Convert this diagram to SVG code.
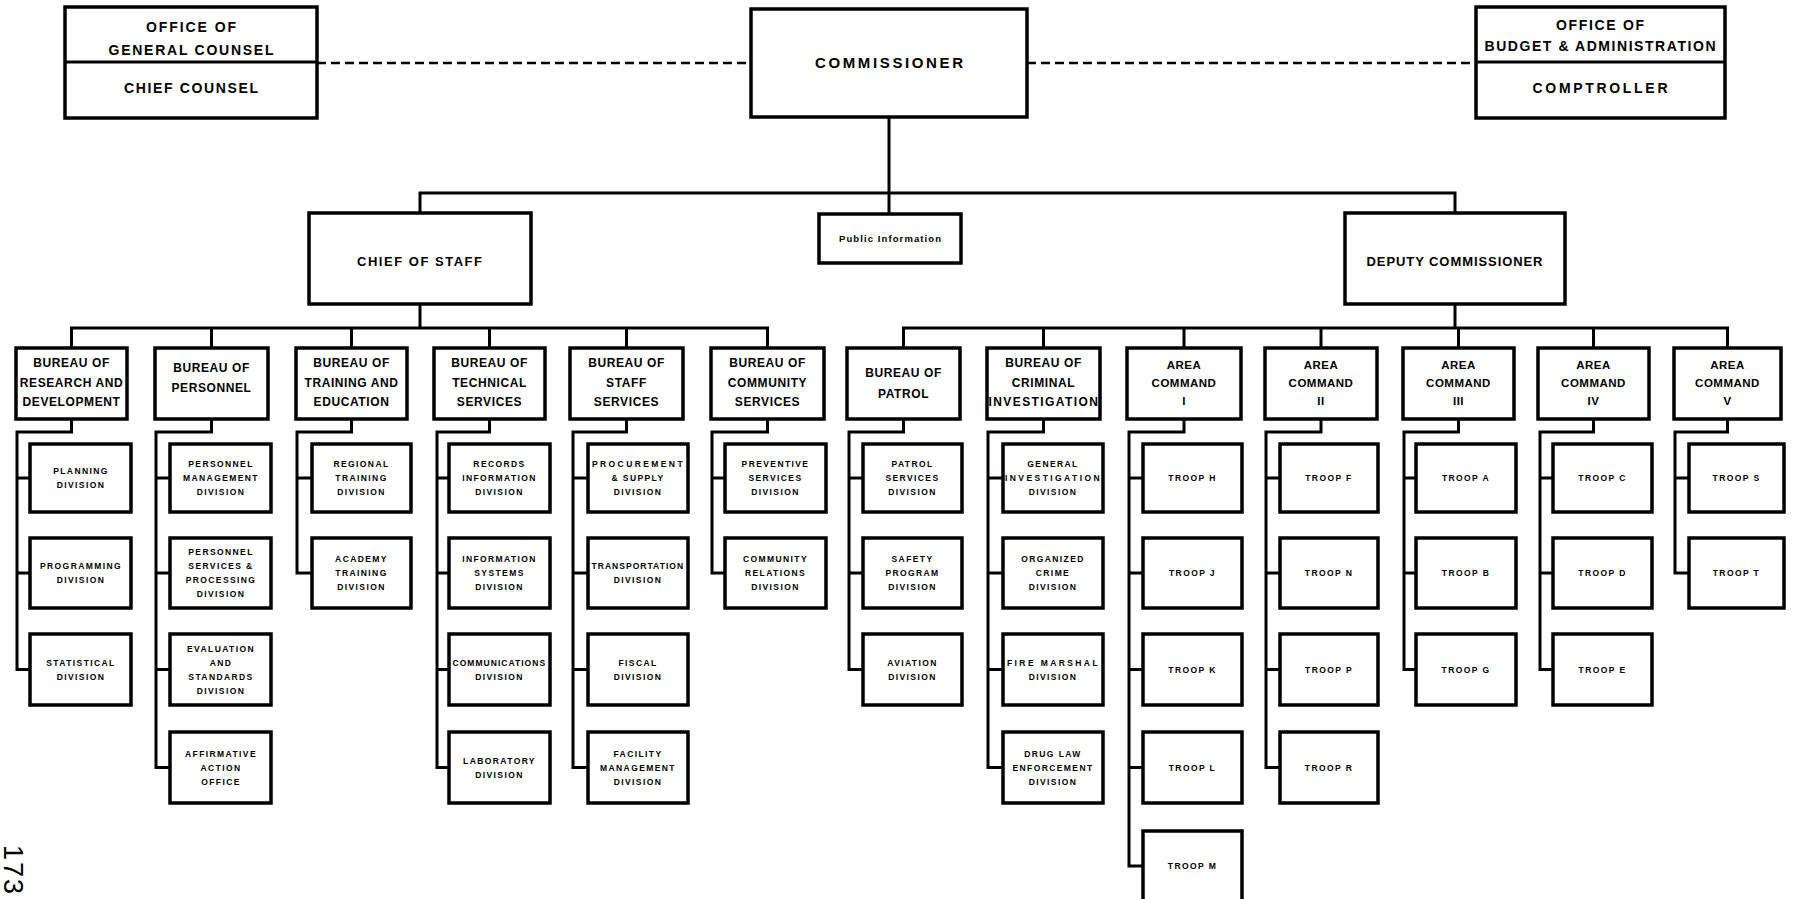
<svg xmlns="http://www.w3.org/2000/svg" width="1794" height="899" viewBox="0 0 1794 899">
<style>
.box{fill:#fff;stroke:#000;stroke-width:3.5}
.ln{fill:none;stroke:#000;stroke-width:3}
.dash{fill:none;stroke:#000;stroke-width:2.5;stroke-dasharray:9 5}
text{font-family:"Liberation Sans",Arial,sans-serif;font-weight:bold;fill:#000;text-anchor:middle}
.t1{font-size:14px}
.t2{font-size:13px;letter-spacing:1px}
.t3{font-size:12px;letter-spacing:0.6px}
.ta{font-size:11.5px;letter-spacing:0.5px}
.t4{font-size:8.5px;letter-spacing:1.4px}
.tp{font-size:9.5px}
.pg{font-size:27px;font-weight:normal;letter-spacing:2px;text-anchor:start}
</style>
<rect width="1794" height="899" fill="#fff"/>

<g id="connectors">
<path class="dash" d="M317 63H751M1027 63H1476"/>
<path class="ln" d="M889 117V214M420 213V193H1455V213"/>
<path class="ln" d="M420 304V328M71.5 348V328H767.5V348M211.5 328V348M351.5 328V348M489.5 328V348M626.5 328V348"/>
<path class="ln" d="M1455 304V328M903.5 348V328H1727.5V348M1043.5 328V348M1184 328V348M1321 328V348M1458.5 328V348M1593.5 328V348"/>
<path class="ln" d="M71.5 419V432H17V669.5H30M17 478H30M17 573H30"/>
<path class="ln" d="M211.5 419V432H156V767.5H170M156 478H170M156 573H170M156 669.5H170"/>
<path class="ln" d="M351.5 419V432H297V573H312M297 478H312"/>
<path class="ln" d="M489.5 419V432H437V767.5H449M437 478H449M437 573H449M437 669.5H449"/>
<path class="ln" d="M626.5 419V432H573V767.5H588M573 478H588M573 573H588M573 669.5H588"/>
<path class="ln" d="M767.5 419V432H712V573H725M712 478H725"/>
<path class="ln" d="M903.5 419V432H849V669.5H863M849 478H863M849 573H863"/>
<path class="ln" d="M1043.5 419V432H988V767.5H1003M988 478H1003M988 573H1003M988 669.5H1003"/>
<path class="ln" d="M1184 419V432H1129V866H1143M1129 478H1143M1129 573H1143M1129 669.5H1143M1129 767.5H1143"/>
<path class="ln" d="M1321 419V432H1266V767.5H1280M1266 478H1280M1266 573H1280M1266 669.5H1280"/>
<path class="ln" d="M1458.5 419V432H1404V669.5H1416M1404 478H1416M1404 573H1416"/>
<path class="ln" d="M1593.5 419V432H1540V669.5H1553M1540 478H1553M1540 573H1553"/>
<path class="ln" d="M1727.5 419V432H1675V573H1689M1675 478H1689"/>
</g>

<g id="general-counsel">
<rect class="box" x="65" y="7" width="252" height="111"/>
<path class="ln" d="M65 62H317"/>
<text class="t1" x="191" y="32" textLength="90">OFFICE OF</text>
<text class="t1" x="191" y="55" textLength="165">GENERAL COUNSEL</text>
<text class="t1" x="191" y="93" textLength="134">CHIEF COUNSEL</text>
</g>
<g id="commissioner">
<rect class="box" x="751" y="9" width="276" height="108"/>
<text class="t1" x="889" y="68" style="font-size:15px" textLength="148">COMMISSIONER</text>
</g>
<g id="budget">
<rect class="box" x="1476" y="7" width="249" height="111"/>
<path class="ln" d="M1476 62H1725"/>
<text class="t1" x="1600" y="30" textLength="88">OFFICE OF</text>
<text class="t1" x="1600" y="51" textLength="231">BUDGET &amp; ADMINISTRATION</text>
<text class="t1" x="1600" y="93" textLength="135">COMPTROLLER</text>
</g>
<g id="chief-of-staff">
<rect class="box" x="309" y="213" width="222" height="91"/>
<text class="t2" x="420" y="265.5" textLength="126">CHIEF OF STAFF</text>
</g>
<g id="public-information">
<rect class="box" x="819" y="214" width="142" height="49"/>
<text class="tp" x="890" y="241.5" textLength="102">Public Information</text>
</g>
<g id="deputy-commissioner">
<rect class="box" x="1345" y="213" width="220" height="91"/>
<text class="t2" x="1455" y="265.5" textLength="177">DEPUTY COMMISSIONER</text>
</g>

<g id="bureau-research">
<rect class="box" x="16" y="348" width="111" height="71"/>
<text class="t3" x="71.5" y="367">BUREAU OF</text>
<text class="t3" x="71.5" y="386.5">RESEARCH AND</text>
<text class="t3" x="71.5" y="405.5">DEVELOPMENT</text>
</g>
<g id="planning"><rect class="box" x="30" y="444" width="101" height="68"/>
<text class="t4" x="81" y="474">PLANNING</text><text class="t4" x="81" y="488">DIVISION</text></g>
<g id="programming"><rect class="box" x="30" y="538" width="101" height="70"/>
<text class="t4" x="81" y="569">PROGRAMMING</text><text class="t4" x="81" y="583">DIVISION</text></g>
<g id="statistical"><rect class="box" x="30" y="634" width="101" height="71"/>
<text class="t4" x="81" y="665.5">STATISTICAL</text><text class="t4" x="81" y="679.5">DIVISION</text></g>

<g id="bureau-personnel">
<rect class="box" x="155" y="348" width="113" height="71"/>
<text class="t3" x="211.5" y="372">BUREAU OF</text>
<text class="t3" x="211.5" y="392">PERSONNEL</text>
</g>
<g id="personnel-management"><rect class="box" x="170" y="444" width="101" height="68"/>
<text class="t4" x="221" y="467">PERSONNEL</text><text class="t4" x="221" y="481">MANAGEMENT</text><text class="t4" x="221" y="495">DIVISION</text></g>
<g id="personnel-services"><rect class="box" x="170" y="538" width="101" height="70"/>
<text class="t4" x="221" y="555">PERSONNEL</text><text class="t4" x="221" y="569">SERVICES &amp;</text><text class="t4" x="221" y="583">PROCESSING</text><text class="t4" x="221" y="597">DIVISION</text></g>
<g id="evaluation"><rect class="box" x="170" y="634" width="101" height="71"/>
<text class="t4" x="221" y="651.5">EVALUATION</text><text class="t4" x="221" y="665.5">AND</text><text class="t4" x="221" y="679.5">STANDARDS</text><text class="t4" x="221" y="693.5">DIVISION</text></g>
<g id="affirmative-action"><rect class="box" x="170" y="732" width="101" height="71"/>
<text class="t4" x="221" y="756.5">AFFIRMATIVE</text><text class="t4" x="221" y="770.5">ACTION</text><text class="t4" x="221" y="784.5">OFFICE</text></g>

<g id="bureau-training">
<rect class="box" x="296" y="348" width="111" height="71"/>
<text class="t3" x="351.5" y="367">BUREAU OF</text>
<text class="t3" x="351.5" y="386.5">TRAINING AND</text>
<text class="t3" x="351.5" y="405.5">EDUCATION</text>
</g>
<g id="regional-training"><rect class="box" x="312" y="444" width="99" height="68"/>
<text class="t4" x="361.5" y="467">REGIONAL</text><text class="t4" x="361.5" y="481">TRAINING</text><text class="t4" x="361.5" y="495">DIVISION</text></g>
<g id="academy-training"><rect class="box" x="312" y="538" width="99" height="70"/>
<text class="t4" x="361.5" y="562">ACADEMY</text><text class="t4" x="361.5" y="576">TRAINING</text><text class="t4" x="361.5" y="590">DIVISION</text></g>

<g id="bureau-technical">
<rect class="box" x="434" y="348" width="111" height="71"/>
<text class="t3" x="489.5" y="367">BUREAU OF</text>
<text class="t3" x="489.5" y="386.5">TECHNICAL</text>
<text class="t3" x="489.5" y="405.5">SERVICES</text>
</g>
<g id="records"><rect class="box" x="449" y="444" width="101" height="68"/>
<text class="t4" x="499.5" y="467">RECORDS</text><text class="t4" x="499.5" y="481">INFORMATION</text><text class="t4" x="499.5" y="495">DIVISION</text></g>
<g id="information-systems"><rect class="box" x="449" y="538" width="101" height="70"/>
<text class="t4" x="499.5" y="562">INFORMATION</text><text class="t4" x="499.5" y="576">SYSTEMS</text><text class="t4" x="499.5" y="590">DIVISION</text></g>
<g id="communications"><rect class="box" x="449" y="634" width="101" height="71"/>
<text class="t4" x="499.5" y="665.5" textLength="94">COMMUNICATIONS</text><text class="t4" x="499.5" y="679.5">DIVISION</text></g>
<g id="laboratory"><rect class="box" x="449" y="732" width="101" height="71"/>
<text class="t4" x="499.5" y="763.5">LABORATORY</text><text class="t4" x="499.5" y="777.5">DIVISION</text></g>

<g id="bureau-staff">
<rect class="box" x="570" y="348" width="113" height="71"/>
<text class="t3" x="626.5" y="367">BUREAU OF</text>
<text class="t3" x="626.5" y="386.5">STAFF</text>
<text class="t3" x="626.5" y="405.5">SERVICES</text>
</g>
<g id="procurement"><rect class="box" x="588" y="444" width="100" height="68"/>
<text class="t4" x="638" y="467" textLength="92">PROCUREMENT</text><text class="t4" x="638" y="481">&amp; SUPPLY</text><text class="t4" x="638" y="495">DIVISION</text></g>
<g id="transportation"><rect class="box" x="588" y="538" width="100" height="70"/>
<text class="t4" x="638" y="569" textLength="93">TRANSPORTATION</text><text class="t4" x="638" y="583">DIVISION</text></g>
<g id="fiscal"><rect class="box" x="588" y="634" width="100" height="71"/>
<text class="t4" x="638" y="665.5">FISCAL</text><text class="t4" x="638" y="679.5">DIVISION</text></g>
<g id="facility"><rect class="box" x="588" y="732" width="100" height="71"/>
<text class="t4" x="638" y="756.5">FACILITY</text><text class="t4" x="638" y="770.5">MANAGEMENT</text><text class="t4" x="638" y="784.5">DIVISION</text></g>

<g id="bureau-community">
<rect class="box" x="711" y="348" width="113" height="71"/>
<text class="t3" x="767.5" y="367">BUREAU OF</text>
<text class="t3" x="767.5" y="386.5">COMMUNITY</text>
<text class="t3" x="767.5" y="405.5">SERVICES</text>
</g>
<g id="preventive"><rect class="box" x="725" y="444" width="101" height="68"/>
<text class="t4" x="775.5" y="467">PREVENTIVE</text><text class="t4" x="775.5" y="481">SERVICES</text><text class="t4" x="775.5" y="495">DIVISION</text></g>
<g id="community-relations"><rect class="box" x="725" y="538" width="101" height="70"/>
<text class="t4" x="775.5" y="562">COMMUNITY</text><text class="t4" x="775.5" y="576">RELATIONS</text><text class="t4" x="775.5" y="590">DIVISION</text></g>

<g id="bureau-patrol">
<rect class="box" x="847" y="348" width="113" height="71"/>
<text class="t3" x="903.5" y="377">BUREAU OF</text>
<text class="t3" x="903.5" y="398">PATROL</text>
</g>
<g id="patrol-services"><rect class="box" x="863" y="444" width="99" height="68"/>
<text class="t4" x="912.5" y="467">PATROL</text><text class="t4" x="912.5" y="481">SERVICES</text><text class="t4" x="912.5" y="495">DIVISION</text></g>
<g id="safety-program"><rect class="box" x="863" y="538" width="99" height="70"/>
<text class="t4" x="912.5" y="562">SAFETY</text><text class="t4" x="912.5" y="576">PROGRAM</text><text class="t4" x="912.5" y="590">DIVISION</text></g>
<g id="aviation"><rect class="box" x="863" y="634" width="99" height="71"/>
<text class="t4" x="912.5" y="665.5">AVIATION</text><text class="t4" x="912.5" y="679.5">DIVISION</text></g>

<g id="bureau-criminal">
<rect class="box" x="987" y="348" width="113" height="71"/>
<text class="t3" x="1043.5" y="367">BUREAU OF</text>
<text class="t3" x="1043.5" y="386.5">CRIMINAL</text>
<text class="t3" x="1043.5" y="405.5" textLength="110">INVESTIGATION</text>
</g>
<g id="general-investigation"><rect class="box" x="1003" y="444" width="100" height="68"/>
<text class="t4" x="1053" y="467">GENERAL</text><text class="t4" x="1053" y="481" textLength="96">INVESTIGATION</text><text class="t4" x="1053" y="495">DIVISION</text></g>
<g id="organized-crime"><rect class="box" x="1003" y="538" width="100" height="70"/>
<text class="t4" x="1053" y="562">ORGANIZED</text><text class="t4" x="1053" y="576">CRIME</text><text class="t4" x="1053" y="590">DIVISION</text></g>
<g id="fire-marshal"><rect class="box" x="1003" y="634" width="100" height="71"/>
<text class="t4" x="1053" y="665.5" textLength="92">FIRE MARSHAL</text><text class="t4" x="1053" y="679.5">DIVISION</text></g>
<g id="drug-law"><rect class="box" x="1003" y="732" width="100" height="71"/>
<text class="t4" x="1053" y="756.5">DRUG LAW</text><text class="t4" x="1053" y="770.5">ENFORCEMENT</text><text class="t4" x="1053" y="784.5">DIVISION</text></g>

<g id="area-1">
<rect class="box" x="1127" y="348" width="114" height="71"/>
<text class="ta" x="1184" y="369">AREA</text><text class="ta" x="1184" y="387">COMMAND</text><text class="ta" x="1184" y="405">I</text>
</g>
<g id="troop-h"><rect class="box" x="1143" y="444" width="99" height="68"/><text class="t4" x="1192.5" y="481">TROOP H</text></g>
<g id="troop-j"><rect class="box" x="1143" y="538" width="99" height="70"/><text class="t4" x="1192.5" y="576">TROOP J</text></g>
<g id="troop-k"><rect class="box" x="1143" y="634" width="99" height="71"/><text class="t4" x="1192.5" y="672.5">TROOP K</text></g>
<g id="troop-l"><rect class="box" x="1143" y="732" width="99" height="71"/><text class="t4" x="1192.5" y="770.5">TROOP L</text></g>
<g id="troop-m"><rect class="box" x="1143" y="831" width="99" height="80"/><text class="t4" x="1192.5" y="869">TROOP M</text></g>

<g id="area-2">
<rect class="box" x="1265" y="348" width="112" height="71"/>
<text class="ta" x="1321" y="369">AREA</text><text class="ta" x="1321" y="387">COMMAND</text><text class="ta" x="1321" y="405">II</text>
</g>
<g id="troop-f"><rect class="box" x="1280" y="444" width="98" height="68"/><text class="t4" x="1329" y="481">TROOP F</text></g>
<g id="troop-n"><rect class="box" x="1280" y="538" width="98" height="70"/><text class="t4" x="1329" y="576">TROOP N</text></g>
<g id="troop-p"><rect class="box" x="1280" y="634" width="98" height="71"/><text class="t4" x="1329" y="672.5">TROOP P</text></g>
<g id="troop-r"><rect class="box" x="1280" y="732" width="98" height="71"/><text class="t4" x="1329" y="770.5">TROOP R</text></g>

<g id="area-3">
<rect class="box" x="1403" y="348" width="111" height="71"/>
<text class="ta" x="1458.5" y="369">AREA</text><text class="ta" x="1458.5" y="387">COMMAND</text><text class="ta" x="1458.5" y="405">III</text>
</g>
<g id="troop-a"><rect class="box" x="1416" y="444" width="100" height="68"/><text class="t4" x="1466" y="481">TROOP A</text></g>
<g id="troop-b"><rect class="box" x="1416" y="538" width="100" height="70"/><text class="t4" x="1466" y="576">TROOP B</text></g>
<g id="troop-g"><rect class="box" x="1416" y="634" width="100" height="71"/><text class="t4" x="1466" y="672.5">TROOP G</text></g>

<g id="area-4">
<rect class="box" x="1538" y="348" width="111" height="71"/>
<text class="ta" x="1593.5" y="369">AREA</text><text class="ta" x="1593.5" y="387">COMMAND</text><text class="ta" x="1593.5" y="405">IV</text>
</g>
<g id="troop-c"><rect class="box" x="1553" y="444" width="99" height="68"/><text class="t4" x="1602.5" y="481">TROOP C</text></g>
<g id="troop-d"><rect class="box" x="1553" y="538" width="99" height="70"/><text class="t4" x="1602.5" y="576">TROOP D</text></g>
<g id="troop-e"><rect class="box" x="1553" y="634" width="99" height="71"/><text class="t4" x="1602.5" y="672.5">TROOP E</text></g>

<g id="area-5">
<rect class="box" x="1674" y="348" width="107" height="71"/>
<text class="ta" x="1727.5" y="369">AREA</text><text class="ta" x="1727.5" y="387">COMMAND</text><text class="ta" x="1727.5" y="405">V</text>
</g>
<g id="troop-s"><rect class="box" x="1689" y="444" width="95" height="68"/><text class="t4" x="1736.5" y="481">TROOP S</text></g>
<g id="troop-t"><rect class="box" x="1689" y="538" width="95" height="70"/><text class="t4" x="1736.5" y="576">TROOP T</text></g>

<text class="pg" x="4" y="845" transform="rotate(90 4 845)">173</text>
</svg>
